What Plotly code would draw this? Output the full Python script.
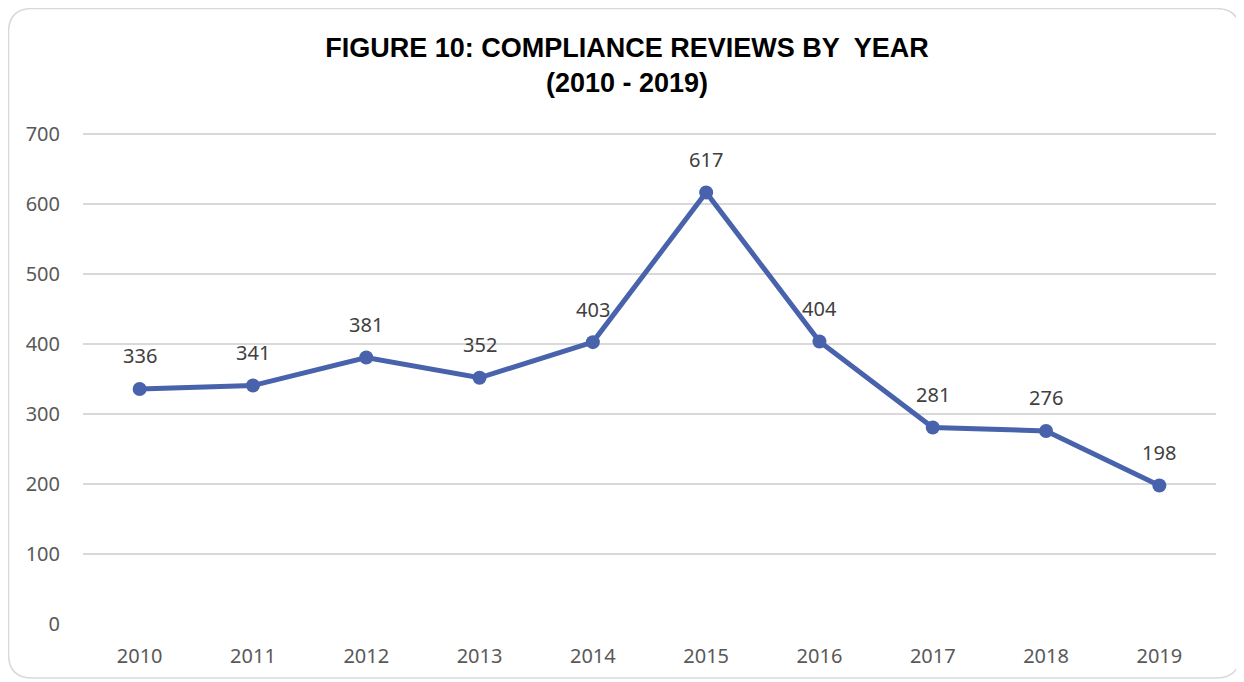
import plotly.graph_objects as go

# data
years = ["2010", "2011", "2012", "2013", "2014", "2015", "2016", "2017", "2018", "2019"]
reviews = [336, 341, 381, 352, 403, 617, 404, 281, 276, 198]

LINE = "#4862AC"
GRID = "#D9D9D9"
TICK = "#595959"
FONT = "Noto Sans, Open Sans, sans-serif"

# the page body adds an 8px margin, so the figure is drawn 8px smaller
FIG_W, FIG_H = 1236, 674
L, R, T, B = 75, 1208, 125, 616
W, H = R - L, B - T

fig = go.Figure()

fig.add_trace(
    go.Scatter(
        x=years,
        y=reviews,
        mode="lines+markers",
        line=dict(color=LINE, width=5),
        marker=dict(color=LINE, size=14),
        hoverinfo="skip",
        showlegend=False,
    )
)

# data labels above each point (x as category index)
for i, y in enumerate(reviews):
    fig.add_annotation(
        x=i,
        y=y,
        xref="x",
        yref="y",
        text=str(y),
        showarrow=False,
        yshift=33,
        font=dict(family=FONT, size=20, color="#404040"),
    )


def px(x):
    return (x - L) / W


def py(y):
    return (B - y) / H


# rounded border around the chart
x0, x1, y0, y1, r = 0.5, 1232, 0.5, 670, 24
path = (
    f"M {px(x0 + r)},{py(y0)} L {px(x1 - r)},{py(y0)} "
    f"Q {px(x1)},{py(y0)} {px(x1)},{py(y0 + r)} "
    f"L {px(x1)},{py(y1 - r)} "
    f"Q {px(x1)},{py(y1)} {px(x1 - r)},{py(y1)} "
    f"L {px(x0 + r)},{py(y1)} "
    f"Q {px(x0)},{py(y1)} {px(x0)},{py(y1 - r)} "
    f"L {px(x0)},{py(y0 + r)} "
    f"Q {px(x0)},{py(y0)} {px(x0 + r)},{py(y0)} Z"
)
fig.add_shape(
    type="path",
    xref="paper",
    yref="paper",
    path=path,
    line=dict(color="#D9D9D9", width=1.5),
    layer="below",
)

fig.update_layout(
    width=FIG_W,
    height=FIG_H,
    paper_bgcolor="white",
    plot_bgcolor="white",
    margin=dict(l=L, r=FIG_W - R, t=T, b=FIG_H - B, pad=0),
    title=dict(
        text="<b>FIGURE 10: COMPLIANCE REVIEWS BY  YEAR<br>(2010 - 2019)</b>",
        x=619 / FIG_W,
        xanchor="center",
        y=1 - 49 / FIG_H,
        yanchor="middle",
        font=dict(
            family="Liberation Sans, Arial, sans-serif",
            size=27,
            color="black",
        ),
    ),
    font=dict(family=FONT, size=20, color=TICK),
)

fig.update_xaxes(
    type="category",
    range=[-0.5, 9.5],
    showgrid=False,
    showline=False,
    zeroline=False,
    ticks="",
    ticklabelstandoff=18,
    tickfont=dict(family=FONT, size=20, color=TICK),
)

fig.update_yaxes(
    range=[0, 702],
    tickvals=[0, 100, 200, 300, 400, 500, 600, 700],
    showgrid=True,
    gridcolor=GRID,
    gridwidth=1.5,
    zeroline=False,
    showline=False,
    ticks="",
    ticklabelstandoff=22,
    tickfont=dict(family=FONT, size=20, color=TICK),
)

fig.write_html("out.html")
